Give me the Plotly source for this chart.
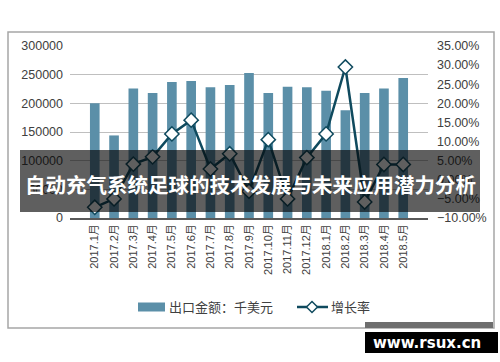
import plotly.graph_objects as go

categories = ["2017.1月", "2017.2月", "2017.3月", "2017.4月", "2017.5月", "2017.6月",
              "2017.7月", "2017.8月", "2017.9月", "2017.10月", "2017.11月", "2017.12月",
              "2018.1月", "2018.2月", "2018.3月", "2018.4月", "2018.5月"]
exports = [200000, 144000, 226000, 218000, 237000, 239000, 228000, 232000, 253000,
           218000, 229000, 228000, 222000, 188000, 218000, 226000, 244000]
growth = [-0.072, -0.050, 0.041, 0.060, 0.120, 0.156, 0.028, 0.068, -0.030,
          0.105, -0.050, 0.058, 0.120, 0.295, -0.058, 0.040, 0.040]
left_ticks = [0, 50000, 100000, 150000, 200000, 250000, 300000]
right_ticks = [-0.10, -0.05, 0.0, 0.05, 0.10, 0.15, 0.20, 0.25, 0.30, 0.35]
series_names = ["出口金额：千美元", "增长率"]

title_text = "自动充气系统足球的技术发展与未来应用潜力分析"
watermark = "www.rsux.cn"

FONT = "Liberation Sans, Arial, Noto Sans CJK SC, sans-serif"
BAR_C = "#5B8FA8"
LINE_C = "#0F4A5E"

# plot area in pixels
L, R, T, B = 70, 428, 46, 218
W, H = R - L, B - T


def px(x):
    return (x - L) / W


def py(y):
    return (B - y) / H


fig = go.Figure()
fig.add_trace(go.Bar(
    x=categories, y=exports, name=series_names[0],
    marker=dict(color=BAR_C, line=dict(width=0)),
    yaxis="y", showlegend=False,
))
fig.add_trace(go.Scatter(
    x=categories, y=growth, name=series_names[1], mode="lines+markers",
    line=dict(color=LINE_C, width=2.5),
    marker=dict(symbol="diamond", size=11, color="white",
                line=dict(color=LINE_C, width=1.5)),
    yaxis="y2", showlegend=False,
))

fig.update_layout(
    template="none",
    width=500, height=362,
    margin=dict(l=L, r=500 - R, t=T, b=362 - B, pad=0),
    paper_bgcolor="white", plot_bgcolor="white",
    font=dict(family=FONT, size=12, color="#404040"),
    bargap=0.5,
    showlegend=False,
    xaxis=dict(type="category", tickangle=-90, showgrid=False, automargin=False,
               showline=True, linecolor="#595959", linewidth=1.5,
               ticks="", tickfont=dict(size=11, color="#404040"), fixedrange=True),
    yaxis=dict(range=[0, 300000], tickvals=left_ticks, tickformat="d", automargin=False,
               showgrid=True, gridcolor="#BFBFBF", gridwidth=1,
               zeroline=False, showline=False, ticks="",
               ticklabelstandoff=6, tickfont=dict(size=12.5, color="#404040")),
    yaxis2=dict(range=[-0.10, 0.35], tickvals=right_ticks, tickformat=".2%", automargin=False,
                overlaying="y", side="right", showgrid=False, zeroline=False,
                showline=False, ticks="", ticklabelstandoff=8,
                tickfont=dict(size=12.5, color="#404040")),
)

# frame
fig.add_shape(type="rect", xref="paper", yref="paper",
              x0=px(8), x1=px(494), y0=py(328), y1=py(32),
              line=dict(color="#A6A6A6", width=1.5), fillcolor="rgba(0,0,0,0)",
              layer="below")

# custom legend (wide swatch like the reference)
LY = 307
fig.add_shape(type="rect", xref="paper", yref="paper",
              x0=px(138), x1=px(165), y0=py(LY + 4.5), y1=py(LY - 4.5),
              line=dict(width=0), fillcolor=BAR_C)
fig.add_annotation(xref="paper", yref="paper", x=px(167), y=py(LY),
                   text=series_names[0], showarrow=False, xanchor="left", yanchor="middle",
                   font=dict(size=13, color="#404040"))
fig.add_shape(type="line", xref="paper", yref="paper",
              x0=px(297), x1=px(328), y0=py(LY), y1=py(LY),
              line=dict(color=LINE_C, width=2.5))
dx, dy = 5.5 / W, 5.5 / H
cx, cy = px(312), py(LY)
fig.add_shape(type="path", xref="paper", yref="paper",
              path=f"M {cx - dx} {cy} L {cx} {cy + dy} L {cx + dx} {cy} L {cx} {cy - dy} Z",
              fillcolor="white", line=dict(color=LINE_C, width=1.5))
fig.add_annotation(xref="paper", yref="paper", x=px(329), y=py(LY),
                   text=series_names[1], showarrow=False, xanchor="left", yanchor="middle",
                   font=dict(size=13, color="#404040"))

# overlay band with title
fig.add_shape(type="rect", xref="paper", yref="paper",
              x0=px(20), x1=px(480), y0=py(212), y1=py(150),
              line=dict(width=0), fillcolor="rgba(5,5,5,0.64)", layer="above")
fig.add_annotation(xref="paper", yref="paper", x=px(250), y=py(184),
                   text="<b>" + title_text + "</b>", showarrow=False,
                   font=dict(family="Noto Sans CJK SC, sans-serif", size=20.5, color="white"),
                   xanchor="center", yanchor="middle")

# watermark
fig.add_shape(type="rect", xref="paper", yref="paper",
              x0=px(365), x1=px(493), y0=py(328), y1=py(322),
              line=dict(width=0), fillcolor="#6E6E6E", layer="above")
fig.add_shape(type="rect", xref="paper", yref="paper",
              x0=px(365), x1=px(498), y0=py(353), y1=py(332),
              line=dict(width=0), fillcolor="black", layer="above")
fig.add_annotation(xref="paper", yref="paper", x=px(427), y=py(342.5),
                   text="<b>" + watermark + "</b>", showarrow=False,
                   font=dict(family="DejaVu Sans, sans-serif", size=15, color="white"),
                   xanchor="center", yanchor="middle")

fig.write_html("out.html", config={"displayModeBar": False},
               post_script="document.body.style.margin='0';document.body.style.padding='0';document.body.style.overflow='hidden';")
